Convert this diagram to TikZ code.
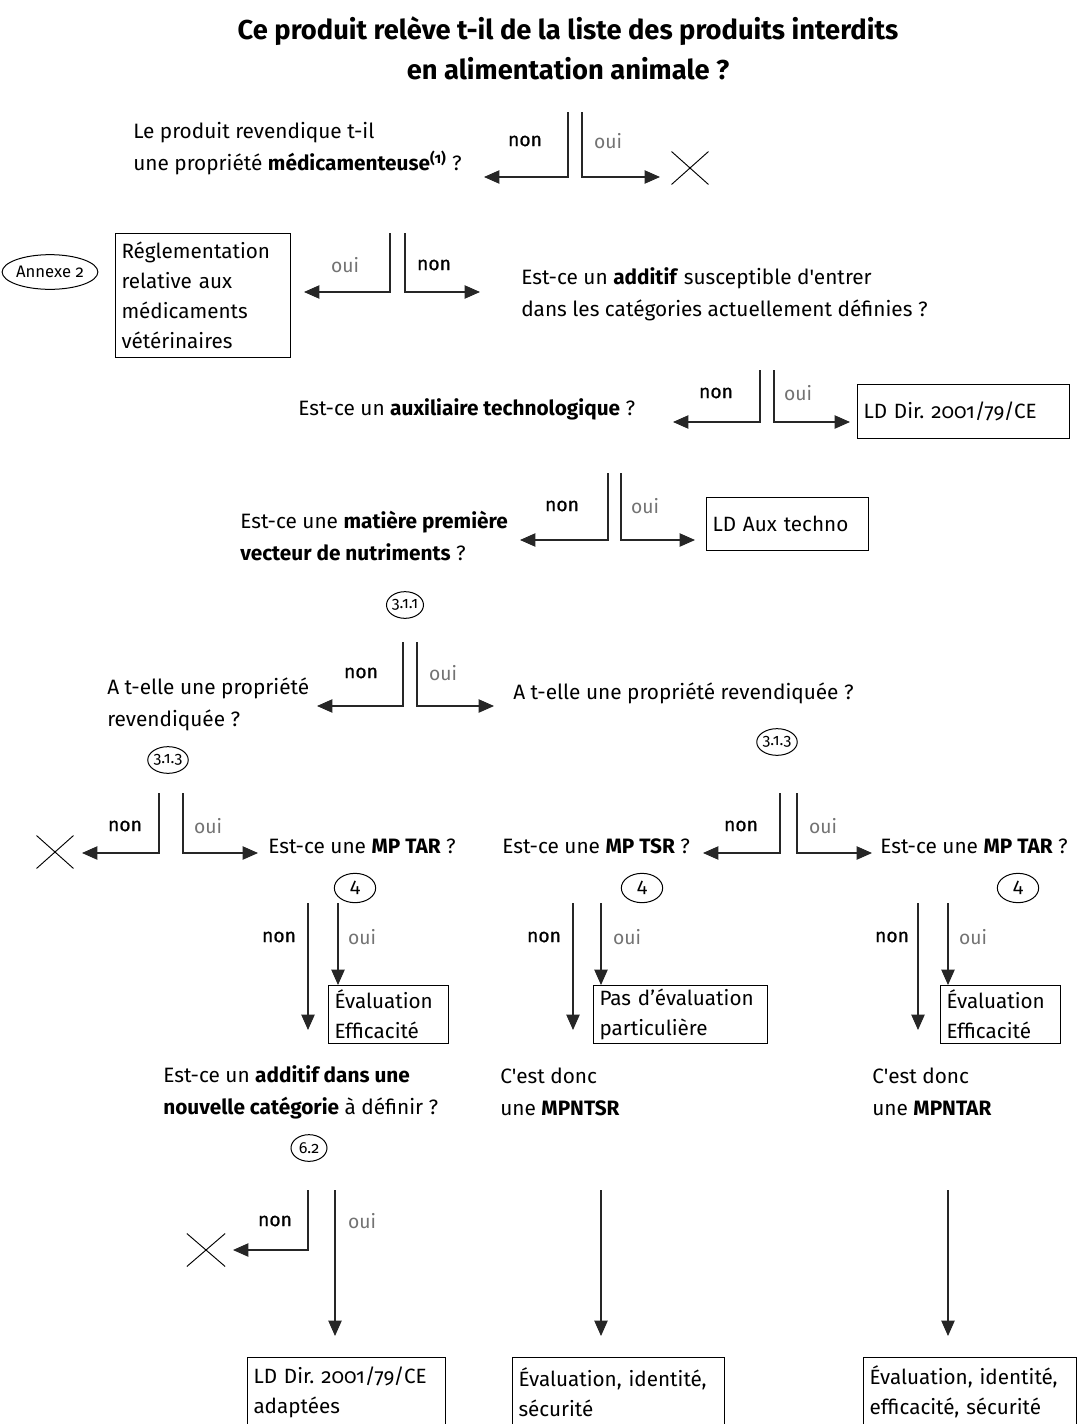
\documentclass[tikz,border=0pt]{standalone}
\usepackage{fontspec}
\setmainfont[Numbers=OldStyle, Ligatures=TeXOff]{Fira Sans}
\newfontfamily\labfont[Numbers=OldStyle, FakeBold=0.5]{Fira Sans}
\usetikzlibrary{arrows.meta,shapes.geometric,shapes.misc}
\begin{document}
\begin{tikzpicture}[x=0.75pt,y=-0.75pt,
 qtext/.style={anchor=west, align=left, inner sep=0pt, font=\fontsize{15.6}{24}\selectfont},
 boxn/.style={draw, line width=0.75pt, align=left, anchor=north west, inner xsep=4.5pt, inner ysep=0pt, font=\fontsize{15.5}{22.5}\selectfont},
 refn/.style={ellipse, draw, line width=0.75pt, inner sep=0pt, font=\fontsize{12}{13}\selectfont},
 nonlab/.style={font=\labfont\fontsize{14.5}{15}\selectfont, text=black},
 ouilab/.style={font=\fontsize{14.5}{15}\selectfont, text=black!55},
 conn/.style={draw=black!85, line width=0.8pt},
 arr/.style={conn, -{Triangle[length=11.5pt,width=10pt]}},
 nix/.style={cross out, draw, line width=0.7pt, minimum width=27pt, minimum height=24pt, inner sep=0pt}]
\useasboundingbox (0,0) rectangle (1076,1424);

% title
\node[align=center, font=\fontsize{20.5}{30}\selectfont\bfseries] (title) at (568,48)
 {Ce produit relève t-il de la liste des produits interdits\\en alimentation animale ?};

% ---- row 1
\node[qtext] (q1) at (133,149) {Le produit revendique t-il\\une propriété \textbf{médicamenteuse\textsuperscript{(1)}} ?};
\coordinate (d1n) at (568,112); \coordinate (d1nt) at (484,177);
\coordinate (d1o) at (582,112); \coordinate (d1ot) at (660,177);
\draw[arr] (d1n) |- (d1nt);
\draw[arr] (d1o) |- (d1ot);
\node[nonlab] (d1nl) at (525,141) {non};
\node[ouilab] (d1ol) at (608,141) {oui};
\node[nix] (x1) at (690,168) {};

% ---- row 2
\node[refn, font=\fontsize{12.5}{14}\selectfont, minimum width=56pt, minimum height=26pt] (annexe) at (50,272) {Annexe 2};
\node[boxn, text width=122pt, minimum height=93pt] (reg) at (115,233)
 {Réglementation\\relative aux\\médicaments\\vétérinaires};
\coordinate (d2o) at (390,233); \coordinate (d2ot) at (304,292);
\coordinate (d2n) at (405,233); \coordinate (d2nt) at (480,292);
\draw[arr] (d2o) |- (d2ot);
\draw[arr] (d2n) |- (d2nt);
\node[ouilab] (d2ol) at (345,265) {oui};
\node[nonlab] (d2nl) at (434,265) {non};
\node[qtext] (q2) at (521,294) {Est-ce un \textbf{additif} susceptible d'entrer\\dans les catégories actuellement définies ?};

% ---- row 3
\node[qtext] (q3) at (298,409) {Est-ce un \textbf{auxiliaire technologique} ?};
\coordinate (d3n) at (760,370); \coordinate (d3nt) at (673,422);
\coordinate (d3o) at (774,370); \coordinate (d3ot) at (850,422);
\draw[arr] (d3n) |- (d3nt);
\draw[arr] (d3o) |- (d3ot);
\node[nonlab] (d3nl) at (716,393) {non};
\node[ouilab] (d3ol) at (798,393) {oui};
\node[boxn, text width=150pt, minimum height=40.5pt] (ld1) at (857,384) {LD Dir.\ 2001/79/CE};

% ---- row 4
\node[qtext] (q4) at (240,536) {Est-ce une \textbf{matière première}\\\textbf{vecteur de nutriments} ?};
\coordinate (d4n) at (608,473); \coordinate (d4nt) at (520,540);
\coordinate (d4o) at (621,473); \coordinate (d4ot) at (695,540);
\draw[arr] (d4n) |- (d4nt);
\draw[arr] (d4o) |- (d4ot);
\node[nonlab] (d4nl) at (562,506) {non};
\node[ouilab] (d4ol) at (645,506) {oui};
\node[boxn, text width=112.5pt, minimum height=39.75pt] (ldaux) at (706,497) {LD Aux techno};
\node[refn, minimum width=24pt, minimum height=20pt] (r311) at (405,605) {3.1.1};

% ---- row 5
\coordinate (d5n) at (403,642); \coordinate (d5nt) at (317,706);
\coordinate (d5o) at (417,642); \coordinate (d5ot) at (494,706);
\draw[arr] (d5n) |- (d5nt);
\draw[arr] (d5o) |- (d5ot);
\node[nonlab] (d5nl) at (361,673) {non};
\node[ouilab] (d5ol) at (443,673) {oui};
\node[qtext] (q5) at (107,704) {A t-elle une propriété\\revendiquée ?};
\node[qtext] (q6) at (513,693) {A t-elle une propriété revendiquée ?};
\node[refn, minimum width=24pt, minimum height=20pt] (r313a) at (168,760) {3.1.3};
\node[refn, minimum width=24pt, minimum height=20pt] (r313b) at (777,742) {3.1.3};

% ---- row 6
\coordinate (d6n) at (159,793); \coordinate (d6nt) at (82,853);
\coordinate (d6o) at (183,793); \coordinate (d6ot) at (258,853);
\draw[arr] (d6n) |- (d6nt);
\draw[arr] (d6o) |- (d6ot);
\node[nonlab] (d6nl) at (125,826) {non};
\node[ouilab] (d6ol) at (208,826) {oui};
\node[nix] (x2) at (55,852) {};
\node[qtext] (q7) at (268,846) {Est-ce une \textbf{MP TAR} ?};
\node[qtext] (q8) at (502,846) {Est-ce une \textbf{MP TSR} ?};
\coordinate (d7n) at (780,793); \coordinate (d7nt) at (703,853);
\coordinate (d7o) at (797,793); \coordinate (d7ot) at (872,853);
\draw[arr] (d7n) |- (d7nt);
\draw[arr] (d7o) |- (d7ot);
\node[nonlab] (d7nl) at (741,826) {non};
\node[ouilab] (d7ol) at (823,826) {oui};
\node[qtext] (q9) at (880,846) {Est-ce une \textbf{MP TAR} ?};
\node[refn, font=\fontsize{15}{16}\selectfont, minimum width=31pt, minimum height=22pt] (r4a) at (355,888) {4};
\node[refn, font=\fontsize{15}{16}\selectfont, minimum width=31pt, minimum height=22pt] (r4b) at (642,888) {4};
\node[refn, font=\fontsize{15}{16}\selectfont, minimum width=31pt, minimum height=22pt] (r4c) at (1018,888) {4};

% ---- row 7
\node[boxn, text width=81pt, minimum height=43.5pt] (evl) at (328,985) {Évaluation\\Efficacité};
\node[boxn, text width=121.5pt, minimum height=43.5pt] (pas) at (593,985) {Pas d’évaluation\\particulière};
\node[boxn, text width=81pt, minimum height=43.5pt] (evr) at (940,985) {Évaluation\\Efficacité};
\coordinate (e1n) at (308,903); \coordinate (e1nt) at (308,1030);
\coordinate (e1o) at (338,903);
\coordinate (e2n) at (573,903); \coordinate (e2nt) at (573,1030);
\coordinate (e2o) at (601,903);
\coordinate (e3n) at (918,903); \coordinate (e3nt) at (918,1030);
\coordinate (e3o) at (948,903);
\draw[arr] (e1n) -- (e1nt);
\draw[arr] (e1o) -- (e1o |- evl.north);
\draw[arr] (e2n) -- (e2nt);
\draw[arr] (e2o) -- (e2o |- pas.north);
\draw[arr] (e3n) -- (e3nt);
\draw[arr] (e3o) -- (e3o |- evr.north);
\node[nonlab] (e1nl) at (279,937) {non};
\node[ouilab] (e1ol) at (362,937) {oui};
\node[nonlab] (e2nl) at (544,937) {non};
\node[ouilab] (e2ol) at (627,937) {oui};
\node[nonlab] (e3nl) at (892,937) {non};
\node[ouilab] (e3ol) at (973,937) {oui};

% ---- row 8
\node[qtext] (q10) at (163,1092) {Est-ce un \textbf{additif dans une}\\\textbf{nouvelle catégorie} à définir ?};
\node[qtext] (q11) at (500,1092) {C'est donc\\une \textbf{MPNTSR}};
\node[qtext] (q12) at (872,1092) {C'est donc\\une \textbf{MPNTAR}};
\node[refn, minimum width=27pt, minimum height=20pt] (r62) at (309,1148) {6.2};

% ---- row 9
\node[boxn, text width=139.5pt, minimum height=52pt] (fin1) at (247,1357) {LD Dir.\ 2001/79/CE\\adaptées};
\node[boxn, text width=150pt, minimum height=52pt] (fin2) at (512,1357) {Évaluation, identité,\\sécurité};
\node[boxn, text width=151pt, minimum height=52pt] (fin3) at (863,1357) {Évaluation, identité,\\efficacité, sécurité};
\coordinate (f1n) at (308,1190); \coordinate (f1nt) at (233,1250);
\coordinate (f1o) at (335,1190); \coordinate (f1ot) at (335,1336);
\coordinate (f2) at (601,1190); \coordinate (f2t) at (601,1336);
\coordinate (f3) at (948,1190); \coordinate (f3t) at (948,1336);
\draw[arr] (f1n) |- (f1nt);
\draw[arr] (f1o) -- (f1ot);
\draw[arr] (f2) -- (f2t);
\draw[arr] (f3) -- (f3t);
\node[nonlab] (f1nl) at (275,1221) {non};
\node[ouilab] (f1ol) at (362,1221) {oui};
\node[nix, minimum width=28pt] (x3) at (206,1250) {};
\end{tikzpicture}
\end{document}
